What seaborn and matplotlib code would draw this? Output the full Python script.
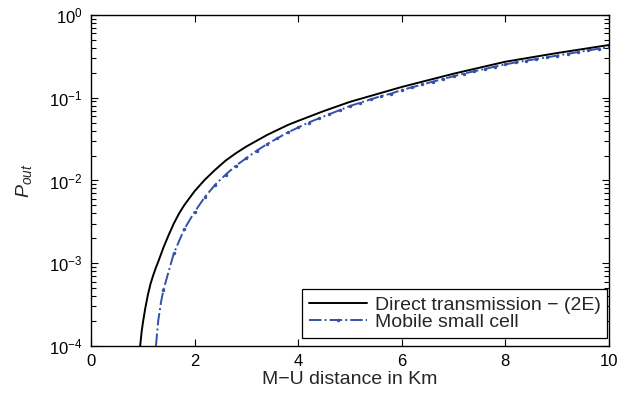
import numpy as np
import pandas as pd
import matplotlib
matplotlib.use("Agg")
import matplotlib.pyplot as plt
from matplotlib.ticker import LogLocator, NullFormatter
import seaborn as sns

# distances (Km) and log10(P_out)
direct_x = [0.95, 0.98, 1.01, 1.05, 1.1, 1.15, 1.2, 1.25, 1.3, 1.4, 1.5, 1.6, 1.7, 1.8,
            2.0, 2.2, 2.4, 2.6, 2.8, 3.0, 3.2, 3.4, 3.6, 3.8, 4.0, 4.5, 5.0, 5.5, 6.0,
            7.0, 8.0, 9.0, 10.0]
direct_log = [-4.0, -3.82, -3.69, -3.54, -3.38, -3.25, -3.15, -3.06, -2.98, -2.81, -2.66,
              -2.52, -2.40, -2.30, -2.13, -1.99, -1.87, -1.76, -1.67, -1.59, -1.52, -1.45,
              -1.39, -1.33, -1.28, -1.16, -1.05, -0.96, -0.87, -0.71, -0.565, -0.46,
              -0.363]

mobile_x = [1.255, 1.28, 1.30, 1.35, 1.4, 1.6, 1.8, 2.0, 2.2, 2.4, 2.6, 2.8, 3.0, 3.2, 3.4,
            3.6, 3.8, 4.0, 4.2, 4.4, 4.6, 4.8, 5.0, 5.2, 5.4, 5.6, 5.8, 6.0, 6.2, 6.4,
            6.6, 6.8, 7.0, 7.2, 7.4, 7.6, 7.8, 8.0, 8.2, 8.4, 8.6, 8.8, 9.0, 9.2, 9.4,
            9.6, 9.8, 10.0]
mobile_log = [-4.0, -3.82, -3.69, -3.48, -3.32, -2.88, -2.59, -2.38, -2.20, -2.05, -1.93,
              -1.82, -1.73, -1.64, -1.56, -1.49, -1.42, -1.36, -1.30, -1.25, -1.20, -1.15,
              -1.10, -1.06, -1.02, -0.98, -0.95, -0.906, -0.874, -0.840, -0.806, -0.773,
              -0.740, -0.708, -0.680, -0.653, -0.624, -0.598, -0.572, -0.552, -0.533,
              -0.512, -0.491, -0.470, -0.448, -0.428, -0.408, -0.391]

x_ticks = [0, 2, 4, 6, 8, 10]
y_ticks = [1e-4, 1e-3, 1e-2, 1e-1, 1e0]

sns.set_style("ticks")
plt.rcParams["font.family"] = ["Liberation Sans", "DejaVu Sans"]
plt.rcParams["mathtext.fontset"] = "custom"
plt.rcParams["mathtext.rm"] = "Liberation Sans"
plt.rcParams["mathtext.it"] = "Liberation Sans:italic"
plt.rcParams["ytick.minor.size"] = 3.5
plt.rcParams["ytick.minor.width"] = 0.8

direct = pd.DataFrame({"d": direct_x, "p": 10 ** np.array(direct_log)})
mobile = pd.DataFrame({"d": mobile_x, "p": 10 ** np.array(mobile_log)})

fig = plt.figure(figsize=(6.36, 3.94), dpi=100)
ax = fig.add_axes([0.143, 0.122, 0.8145, 0.840])

sns.lineplot(data=direct, x="d", y="p", ax=ax, color="black", linewidth=1.4,
             label="Direct transmission \u2212 (2E)")
sns.lineplot(data=mobile, x="d", y="p", ax=ax, color="#3450a8", linewidth=1.4,
             linestyle="-.", marker=".", markersize=5, markeredgewidth=0,
             markevery=list(range(4, len(mobile_x))),
             label="Mobile small cell")

ax.set_yscale("log")
ax.set_xlim(0, 10)
ax.set_ylim(1e-4, 1e0)
ax.set_xticks(x_ticks)
ax.set_yticks(y_ticks)
ax.yaxis.set_minor_locator(LogLocator(base=10, subs=np.arange(2, 10), numticks=100))
ax.yaxis.set_minor_formatter(NullFormatter())
if len(ax.yaxis.get_minorticklocs()) == 0:
    minor = [m * 10.0 ** e for e in range(-4, 0) for m in range(2, 10)]
    ax.set_yticks(minor, minor=True)
ax.tick_params(which="both", direction="in", top=True, right=True,
               labelsize=12, colors="black")
ax.tick_params(which="major", length=5, width=0.8, pad=6)
ax.tick_params(axis="y", which="minor", length=3.5, width=0.8, left=True, right=True)
for s in ax.spines.values():
    s.set_linewidth(1.0)
    s.set_color("black")

ax.set_xlabel("M\u2212U distance in Km", fontsize=14, labelpad=1)
ax.set_ylabel("$P_{out}$", fontsize=14, labelpad=11)

leg = ax.legend(loc="lower right", bbox_to_anchor=(0.997, 0.024), borderaxespad=0,
                fancybox=False, framealpha=1, edgecolor="black", fontsize=14,
                handlelength=3.0, borderpad=0.35, labelspacing=0.0, handletextpad=0.4)
leg.get_frame().set_linewidth(0.9)

fig.savefig("out.png", dpi=100)
